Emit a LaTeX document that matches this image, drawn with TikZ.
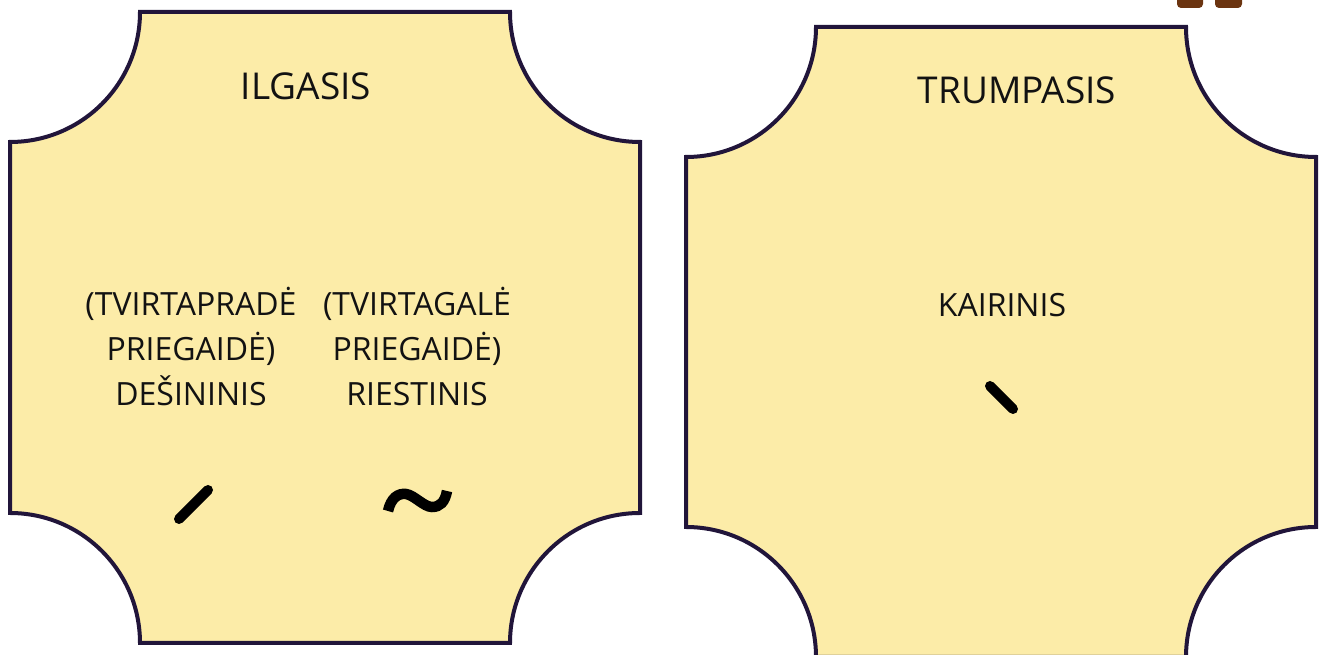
\documentclass[tikz,border=0pt]{standalone}
\usepackage{fontspec}
\setmainfont{Open Sans}
\definecolor{cardfill}{HTML}{FCECA8}
\definecolor{cardline}{HTML}{21153A}
\definecolor{tabbrown}{HTML}{6B3410}
\begin{document}
\begin{tikzpicture}[x=1pt, y=1pt,
    card/.style = {draw=cardline, fill=cardfill, line width=4pt, line join=miter},
    title/.style = {font=\fontsize{37}{44}\selectfont, text=black!93, anchor=base, inner sep=0pt},
    lbl/.style = {font=\fontsize{32}{45}\selectfont, text=black!93, align=center, anchor=base, inner sep=0pt},
    accent/.style = {line width=10pt, line cap=round, black}]
    \useasboundingbox (0,0) rectangle (1320,655);

    % brown tabs at the top edge
    \fill[tabbrown, rounded corners=4pt] (1177,647) rectangle (1203,665);
    \fill[tabbrown, rounded corners=4pt] (1215,647) rectangle (1242,665);

    % left card
    \draw[card] (140,643) -- (510,643) arc[start angle=180, end angle=270, radius=130pt]
        -- (640,142) arc[start angle=90, end angle=180, radius=130pt]
        -- (140,12) arc[start angle=0, end angle=90, radius=130pt]
        -- (10,513) arc[start angle=270, end angle=360, radius=130pt] -- cycle;
    % right card
    \draw[card] (816,628) -- (1186,628) arc[start angle=180, end angle=270, radius=130pt]
        -- (1316,128) arc[start angle=90, end angle=180, radius=130pt]
        -- (816,-2) arc[start angle=0, end angle=90, radius=130pt]
        -- (686,498) arc[start angle=270, end angle=360, radius=130pt] -- cycle;

    \node[title] (ilgasis) at (306,555) {ILGASIS};
    \node[title] (trumpasis) at (1017,551) {TRUMPASIS};
    \node[lbl] (desininis) at (191,249) {(TVIRTAPRADĖ\\PRIEGAIDĖ)\\DEŠININIS};
    \node[lbl] (riestinis) at (417,249) {(TVIRTAGALĖ\\PRIEGAIDĖ)\\RIESTINIS};
    \node[lbl] (kairinis) at (1002,338.5) {KAIRINIS};

    % accent marks
    \draw[accent] (179,136) -- (208,165);
    \draw[accent] (990,269) -- (1013,246);
    \draw[accent, line width=10.5pt, line cap=butt] (388,144) .. controls (391,157) and (398,162) .. (406,161)
        .. controls (414,160) and (424,148) .. (432,148) .. controls (440,148) and (445,153) .. (447,164);
\end{tikzpicture}
\end{document}
